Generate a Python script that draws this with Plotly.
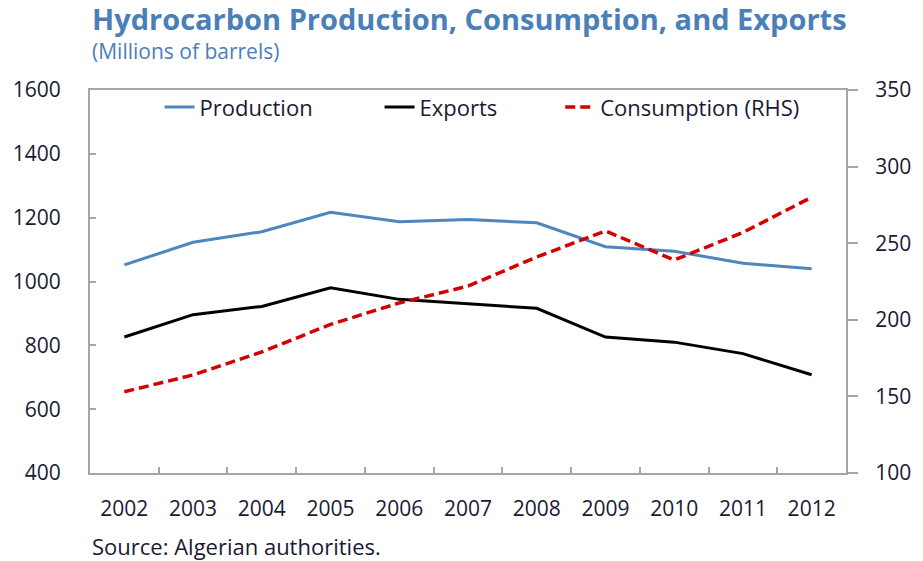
import plotly.graph_objects as go

years = ["2002", "2003", "2004", "2005", "2006", "2007", "2008", "2009", "2010", "2011", "2012"]
production = [1052, 1123, 1156, 1217, 1187, 1194, 1184, 1109, 1095, 1057, 1040]
exports = [826, 896, 922, 980, 944, 931, 916, 826, 810, 774, 708]
consumption = [153, 164, 179, 197, 211, 222, 241, 258, 239, 257, 280]

left_ticks = [400, 600, 800, 1000, 1200, 1400, 1600]
right_ticks = [100, 150, 200, 250, 300, 350]

FONT = "Open Sans"
TEXT = "#1a1a33"
BLUE_TITLE = "#4a7fb8"
GRID = "#a6a6a6"
TICK_SIZE = 21
LEGEND_SIZE = 22

fig = go.Figure()
fig.add_trace(go.Scatter(x=years, y=production, name="Production", mode="lines",
                         line=dict(color="#4f86bd", width=3), legend="legend"))
fig.add_trace(go.Scatter(x=years, y=exports, name="Exports", mode="lines",
                         line=dict(color="#000000", width=3), legend="legend2"))
fig.add_trace(go.Scatter(x=years, y=consumption, name="Consumption (RHS)", mode="lines",
                         line=dict(color="#d40000", width=3.5, dash="10px,5px"),
                         yaxis="y2", legend="legend3"))

legend_style = dict(orientation="h", y=1.01, xanchor="left", yanchor="top",
                    bgcolor="rgba(0,0,0,0)", font=dict(size=LEGEND_SIZE, color=TEXT),
                    itemwidth=30)

fig.update_layout(
    width=923, height=561,
    margin=dict(l=90, r=73, t=90, b=88),
    paper_bgcolor="white", plot_bgcolor="white",
    font=dict(family=FONT, color=TEXT, size=TICK_SIZE),
    showlegend=True,
    legend=dict(x=0.092, **legend_style),
    legend2=dict(x=0.383, **legend_style),
    legend3=dict(x=0.622, **legend_style),
    xaxis=dict(type="category", showgrid=False, showline=True, linecolor=GRID, linewidth=2,
               mirror=True, ticks="inside", ticklen=6, tickcolor=GRID, tickwidth=2,
               tickson="boundaries", ticklabelstandoff=16,
               tickfont=dict(size=TICK_SIZE, color=TEXT), range=[-0.5, 10.5]),
    yaxis=dict(range=[400, 1600], tickvals=left_ticks, showgrid=False, zeroline=False,
               showline=True, linecolor=GRID, linewidth=2, ticks="inside", ticklen=6,
               tickcolor=GRID, tickwidth=2, ticklabelstandoff=23,
               tickfont=dict(size=TICK_SIZE, color=TEXT)),
    yaxis2=dict(range=[100, 350], tickvals=right_ticks, overlaying="y", side="right",
                showgrid=False, zeroline=False, showline=True, linecolor=GRID, linewidth=2,
                ticks="outside", ticklen=10, tickcolor=GRID, tickwidth=2,
                ticklabelstandoff=13, tickfont=dict(size=TICK_SIZE, color=TEXT)),
)

fig.add_annotation(text="<b>Hydrocarbon Production, Consumption, and Exports</b>",
                   xref="paper", yref="paper", x=0, y=1, xshift=0, yshift=72,
                   xanchor="left", yanchor="middle", showarrow=False,
                   font=dict(family=FONT, size=29, color=BLUE_TITLE))
fig.add_annotation(text="(Millions of barrels)",
                   xref="paper", yref="paper", x=0, y=1, xshift=0, yshift=39,
                   xanchor="left", yanchor="middle", showarrow=False,
                   font=dict(family=FONT, size=21, color=BLUE_TITLE))
fig.add_annotation(text="Source: Algerian authorities.",
                   xref="paper", yref="paper", x=0, y=0, xshift=0, yshift=-73,
                   xanchor="left", yanchor="middle", showarrow=False,
                   font=dict(family=FONT, size=22, color=TEXT))

fig.write_html("out.html")
